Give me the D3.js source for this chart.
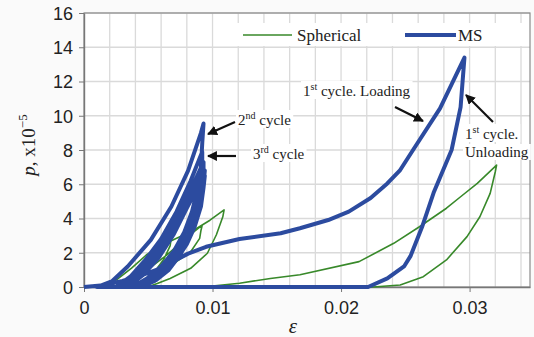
<!DOCTYPE html>
<html>
<head>
<meta charset="utf-8">
<script src="https://cdn.jsdelivr.net/npm/d3@7"></script>
<style>
  body { margin: 0; background: #fafafa; }
</style>
</head>
<body>
<div id="chart"></div>
<script>
// Tick labels
const xTicks = [0, 0.01, 0.02, 0.03]
const yTicks = [0, 2, 4, 6, 8, 10, 12, 14, 16]

// MS (blue) - 1st cycle loading / unloading, [strain, p]
const msLoad1 = [[0,0],[0.0015,0.1],[0.003,0.35],[0.0045,0.7],[0.0058,1.05],[0.0067,1.4],[0.0081,1.95],[0.0095,2.35],[0.0121,2.8],[0.0153,3.14],[0.0168,3.43],[0.019,3.91],[0.0206,4.4],[0.0223,5.2],[0.0236,6.05],[0.0246,6.83],[0.0256,8.0],[0.0277,10.43],[0.0296,13.4]]
const msUnload1 = [[0.0296,13.4],[0.0293,10.5],[0.0286,8.0],[0.0272,5.5],[0.0263,3.5],[0.0254,1.8],[0.0249,1.2],[0.0236,0.5],[0.0221,0],[0.001,0]]
// MS following cycles
const msCycle2 = [[0.001,0],[0.0022,0.35],[0.0034,1.2],[0.0052,2.75],[0.0068,4.7],[0.0081,6.8],[0.0091,9.0],[0.0093,9.55],[0.0092,8.4],[0.0091,7.0],[0.0088,5.6],[0.0084,4.4],[0.0078,3.2],[0.007,2.1],[0.006,1.2],[0.0049,0.5],[0.004,0.1],[0.0035,0]]
const msCycle3 = [[0.0025,0],[0.0036,0.6],[0.0048,1.6],[0.006,2.8],[0.0072,4.4],[0.0083,6.2],[0.0092,7.9],[0.0092,7.0],[0.009,5.8],[0.0086,4.6],[0.0081,3.5],[0.0074,2.4],[0.0065,1.4],[0.0054,0.6],[0.0044,0.15],[0.0037,0]]
const msCycle4 = [[0.0028,0],[0.0039,0.6],[0.005,1.5],[0.0062,2.7],[0.0074,4.3],[0.0085,6.0],[0.0093,7.3],[0.0093,6.6],[0.0091,5.4],[0.0087,4.2],[0.0082,3.1],[0.0075,2.1],[0.0066,1.2],[0.0056,0.5],[0.0046,0.1],[0.0039,0]]
const msCycle5 = [[0.003,0],[0.0042,0.7],[0.0054,1.7],[0.0066,3.0],[0.0077,4.6],[0.0087,6.2],[0.0093,7.0],[0.0093,6.3],[0.0091,5.2],[0.0087,4.0],[0.0082,2.9],[0.0075,1.9],[0.0066,1.0],[0.0056,0.4],[0.0047,0.08],[0.004,0]]
const msCycle6 = [[0.0032,0],[0.0044,0.7],[0.0056,1.7],[0.0068,3.0],[0.0079,4.6],[0.0088,6.0],[0.0094,6.8],[0.0093,6.0],[0.0091,4.9],[0.0087,3.8],[0.0081,2.7],[0.0073,1.7],[0.0064,0.9],[0.0055,0.35],[0.0046,0.05],[0.004,0]]
const msCycle7 = [[0.0034,0],[0.0046,0.7],[0.0058,1.7],[0.007,3.1],[0.008,4.6],[0.0089,5.9],[0.0094,6.5],[0.0093,5.8],[0.0091,4.7],[0.0086,3.5],[0.008,2.5],[0.0072,1.6],[0.0063,0.85],[0.0053,0.3],[0.0045,0.05],[0.004,0]]

// Spherical (green)
const sphLoad1 = [[0,0],[0.008,0],[0.01,0.06],[0.0121,0.22],[0.0145,0.5],[0.0168,0.72],[0.0214,1.48],[0.0241,2.55],[0.0261,3.52],[0.0282,4.6],[0.0293,5.27],[0.0306,6.05],[0.0321,7.12]]
const sphUnload1 = [[0.0321,7.12],[0.032,6.73],[0.0316,5.47],[0.0308,4.1],[0.0298,2.94],[0.0282,1.58],[0.0264,0.6],[0.0246,0.12],[0.0225,0],[0.0012,0]]
const sphCycle2 = [[0.0012,0],[0.0025,0.4],[0.0037,1.1],[0.0049,1.9],[0.0065,2.6],[0.0085,3.3],[0.0098,3.9],[0.0109,4.5],[0.0108,4.1],[0.0103,3.05],[0.0096,1.97],[0.0083,1.09],[0.0067,0.5],[0.0057,0.2],[0.0051,0.05],[0.0046,0]]
const sphCycle3 = [[0.0028,0],[0.004,0.55],[0.0051,1.1],[0.0065,1.9],[0.008,2.9],[0.0092,3.62],[0.0091,3.3],[0.009,2.84],[0.0083,2.06],[0.007,1.38],[0.0057,0.8],[0.0047,0.35],[0.004,0.1],[0.0036,0]]
const sphCycle4 = [[0.0033,0],[0.0045,0.9],[0.0057,1.9],[0.0068,2.9],[0.0067,2.4],[0.0062,1.6],[0.0055,0.9],[0.0047,0.35],[0.0041,0]]

const msData = [].concat(msLoad1, msUnload1, msCycle2, msCycle3, msCycle4, msCycle5, msCycle6, msCycle7)
const sphData = [].concat(sphLoad1, sphUnload1, sphCycle2, sphCycle3, sphCycle4)

const blue = '#2c4b9f'
const green = '#38892a'
const serif = '"Liberation Serif", "Times New Roman", serif'
const sans = '"Liberation Sans", Arial, sans-serif'

const svg = d3.select('#chart').append('svg')
  .attr('width', 534)
  .attr('height', 337)

// Scales
const x = d3.scaleLinear().domain([0, 0.0347]).range([84, 530])
const y = d3.scaleLinear().domain([0, 16]).range([287, 13])

// Plot background
svg.append('rect')
  .attr('x', x(0)).attr('y', y(16))
  .attr('width', x(0.0347) - x(0)).attr('height', y(0) - y(16))
  .attr('fill', '#fff')

// Grid
const grid = svg.append('g').attr('stroke', '#dadada').attr('stroke-width', 1.3)
grid.selectAll('.vg')
  .data(d3.range(0.002, 0.0346, 0.002))
  .enter().append('line')
  .attr('x1', d => x(d)).attr('x2', d => x(d))
  .attr('y1', y(0)).attr('y2', y(16))
grid.selectAll('.hg')
  .data(yTicks.slice(1))
  .enter().append('line')
  .attr('x1', x(0)).attr('x2', x(0.0347))
  .attr('y1', d => y(d)).attr('y2', d => y(d))

// Border
svg.append('rect')
  .attr('x', x(0)).attr('y', y(16))
  .attr('width', x(0.0347) - x(0)).attr('height', y(0) - y(16))
  .attr('fill', 'none').attr('stroke', '#8a8a8a').attr('stroke-width', 1.2)

// Axes
const xAxis = d3.axisBottom(x).tickValues(xTicks).tickSize(5).tickSizeOuter(0)
  .tickFormat(d => d === 0 ? '0' : d3.format('.2f')(d))
const yAxis = d3.axisLeft(y).tickValues(yTicks).tickSize(5).tickSizeOuter(0).tickPadding(6)

const xAxisGroup = svg.append('g').attr('transform', `translate(0, ${y(0)})`).call(xAxis)
const yAxisGroup = svg.append('g').attr('transform', `translate(${x(0)}, 0)`).call(yAxis)

;[xAxisGroup, yAxisGroup].forEach(g => {
  g.select('.domain').attr('stroke', '#777').attr('stroke-width', 1.4)
  g.selectAll('.tick line').attr('stroke', '#777')
  g.selectAll('text').attr('font-family', sans).attr('font-size', '18px').attr('fill', '#222')
})
xAxisGroup.selectAll('text').attr('dy', '1.05em')
yAxisGroup.selectAll('text').attr('dy', '0.36em')

// Curves
const line = d3.line().x(d => x(d[0])).y(d => y(d[1]))

svg.append('path')
  .attr('d', line(sphData))
  .attr('fill', 'none').attr('stroke', green).attr('stroke-width', 1.6)
  .attr('stroke-linejoin', 'round')

svg.append('path')
  .attr('d', line(msData))
  .attr('fill', 'none').attr('stroke', blue).attr('stroke-width', 4)
  .attr('stroke-linejoin', 'round')

// Legend
svg.append('rect').attr('x', 232).attr('y', 23).attr('width', 296).attr('height', 23).attr('fill', '#fff')
svg.append('line').attr('x1', 243).attr('x2', 292).attr('y1', 35).attr('y2', 35)
  .attr('stroke', green).attr('stroke-width', 1.6)
svg.append('text').attr('x', 297).attr('y', 41).text('Spherical')
  .attr('font-family', serif).attr('font-size', '17px').attr('fill', '#222')
svg.append('line').attr('x1', 405).attr('x2', 456).attr('y1', 35).attr('y2', 35)
  .attr('stroke', blue).attr('stroke-width', 4)
svg.append('text').attr('x', 458).attr('y', 41).text('MS')
  .attr('font-family', serif).attr('font-size', '17px').attr('fill', '#222')

// Annotations
const notes = svg.append('g')
function note(px, py, parts) {
  const t = notes.append('text').attr('x', px).attr('y', py)
    .attr('font-family', serif).attr('font-size', '15px').attr('fill', '#222')
  parts.forEach(p => {
    const s = t.append('tspan').text(p[0])
    if (p[1] === 'sup') s.attr('font-size', '10px').attr('dy', -6)
    if (p[1] === 'back') s.attr('dy', 6)
  })
  const b = t.node().getBBox()
  notes.insert('rect', 'text')
    .attr('x', b.x - 2).attr('y', b.y).attr('width', b.width + 4).attr('height', b.height)
    .attr('fill', '#fff')
}
note(238, 125, [['2'], ['nd', 'sup'], [' cycle', 'back']])
note(253, 159, [['3'], ['rd', 'sup'], [' cycle', 'back']])
note(303, 96, [['1'], ['st', 'sup'], [' cycle. Loading', 'back']])
note(465, 139, [['1'], ['st', 'sup'], [' cycle.', 'back']])
note(465, 157, [['Unloading']])

// Arrows
svg.append('defs').append('marker')
  .attr('id', 'head').attr('viewBox', '0 0 10 10')
  .attr('refX', 9).attr('refY', 5)
  .attr('markerWidth', 4.5).attr('markerHeight', 4.5)
  .attr('orient', 'auto')
  .append('path').attr('d', 'M0,0 L10,5 L0,10 Z').attr('fill', '#111')

const arrows = [
  [235, 122, 208, 134],
  [236, 156, 208, 156],
  [395, 107, 423, 121],
  [493, 122, 466, 95]
]
svg.selectAll('.arrow')
  .data(arrows)
  .enter().append('line')
  .attr('x1', d => d[0]).attr('y1', d => d[1])
  .attr('x2', d => d[2]).attr('y2', d => d[3])
  .attr('stroke', '#111').attr('stroke-width', 2.2)
  .attr('marker-end', 'url(#head)')

// Axis titles
svg.append('text').attr('x', 293).attr('y', 333).attr('text-anchor', 'middle')
  .attr('font-family', serif).attr('font-style', 'italic').attr('font-size', '21px').attr('fill', '#222')
  .text('ε')

const yTitle = svg.append('text')
  .attr('transform', 'translate(35, 145) rotate(-90)')
  .attr('text-anchor', 'middle')
  .attr('font-family', serif).attr('font-size', '19px').attr('fill', '#222')
yTitle.append('tspan').attr('font-style', 'italic').text('p')
yTitle.append('tspan').text(', x10')
yTitle.append('tspan').attr('font-size', '13px').attr('dy', -8).text('−5')
</script>
</body>
</html>
